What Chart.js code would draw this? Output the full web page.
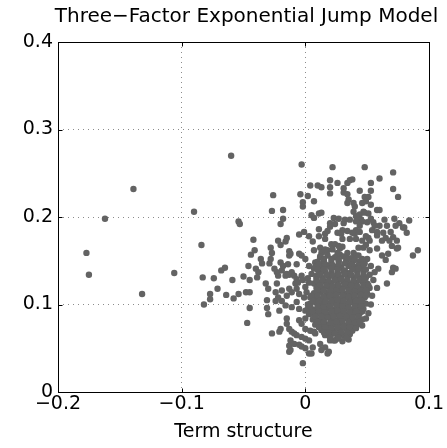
<!DOCTYPE html>
<html lang="en">
<head>
<meta charset="UTF-8">
<title>Three-Factor Exponential Jump Model</title>
<style>
  body { margin: 0; background: #fff; }
  canvas { display: block; }
</style>
</head>
<body>
<canvas id="scatter" width="447" height="448"></canvas>

<script src="https://cdn.jsdelivr.net/npm/chart.js@4"></script>
<script>
const chartTitle = 'Three\u2212Factor Exponential Jump Model';
const xAxisTitle = 'Term structure';
const xTickValues = [-0.2, -0.1, 0, 0.1];
const xTickLabels = ['\u22120.2', '\u22120.1', '0', '0.1'];
const yTickValues = [0, 0.1, 0.2, 0.3, 0.4];
const yTickLabels = ['0', '0.1', '0.2', '0.3', '0.4'];

// [term structure, jump level]
const farLeft = [
  [-0.177, 0.159], [-0.175, 0.134], [-0.162, 0.198], [-0.139, 0.232], [-0.132, 0.112],
  [-0.106, 0.136], [-0.090, 0.206]
];

const leftScatter = [
  [-0.084, 0.168], [-0.083, 0.131], [-0.082, 0.100], [-0.077, 0.112], [-0.077, 0.106],
  [-0.074, 0.130], [-0.071, 0.118], [-0.068, 0.139], [-0.065, 0.142], [-0.064, 0.111],
  [-0.060, 0.270], [-0.059, 0.128], [-0.058, 0.107], [-0.054, 0.112], [-0.054, 0.195],
  [-0.053, 0.192], [-0.050, 0.132], [-0.048, 0.114], [-0.047, 0.079], [-0.046, 0.144],
  [-0.045, 0.114], [-0.045, 0.096], [-0.045, 0.128], [-0.044, 0.157]
];

const lowerLeft = [
  [-0.042, 0.174], [-0.041, 0.162], [-0.040, 0.141], [-0.039, 0.131], [-0.038, 0.137],
  [-0.036, 0.152], [-0.035, 0.147], [-0.032, 0.124], [-0.031, 0.105], [-0.030, 0.118],
  [-0.029, 0.147], [-0.028, 0.165], [-0.028, 0.152], [-0.027, 0.159], [-0.025, 0.141],
  [-0.024, 0.114], [-0.024, 0.104], [-0.023, 0.137], [-0.023, 0.124], [-0.022, 0.173],
  [-0.022, 0.133], [-0.022, 0.108], [-0.020, 0.168], [-0.020, 0.148], [-0.019, 0.104],
  [-0.019, 0.139], [-0.019, 0.116], [-0.018, 0.144], [-0.016, 0.172], [-0.016, 0.133],
  [-0.016, 0.099], [-0.015, 0.176], [-0.015, 0.135], [-0.015, 0.110], [-0.014, 0.146],
  [-0.013, 0.161], [-0.013, 0.156], [-0.013, 0.134], [-0.013, 0.118], [-0.012, 0.158],
  [-0.011, 0.137], [-0.011, 0.114], [-0.011, 0.097], [-0.009, 0.133], [-0.008, 0.124],
  [-0.007, 0.146], [-0.007, 0.129], [-0.007, 0.118], [-0.007, 0.103], [-0.006, 0.125],
  [-0.005, 0.158], [-0.005, 0.112], [-0.005, 0.095], [-0.003, 0.156], [-0.003, 0.133],
  [-0.002, 0.128], [-0.001, 0.183], [-0.001, 0.108], [0.000, 0.152], [0.000, 0.120],
  [0.000, 0.093], [0.001, 0.114], [0.002, 0.130], [0.002, 0.100], [0.003, 0.178],
  [0.003, 0.144], [0.003, 0.125], [0.003, 0.089], [0.004, 0.108], [0.005, 0.135],
  [0.007, 0.141], [0.007, 0.124], [0.008, 0.148], [0.009, 0.133], [0.009, 0.125],
  [-0.030, 0.089], [-0.031, 0.096], [-0.021, 0.093]
];

const lowerTail = [
  [-0.027, 0.067], [-0.021, 0.069], [-0.020, 0.072], [-0.015, 0.084], [-0.015, 0.078],
  [-0.013, 0.072], [-0.011, 0.069], [-0.009, 0.067], [-0.007, 0.065], [-0.005, 0.082],
  [-0.003, 0.078], [-0.003, 0.063], [0.000, 0.084], [0.000, 0.072], [0.000, 0.061],
  [0.003, 0.059], [0.004, 0.070], [0.007, 0.069], [0.007, 0.088], [0.008, 0.067],
  [-0.012, 0.059], [-0.013, 0.053], [-0.012, 0.048], [-0.009, 0.055], [-0.005, 0.054],
  [-0.003, 0.052], [0.000, 0.050], [0.003, 0.044], [0.005, 0.044], [0.006, 0.051],
  [-0.013, 0.046], [-0.002, 0.033], [0.012, 0.055], [0.013, 0.048], [0.016, 0.051],
  [0.018, 0.044], [0.019, 0.046], [0.020, 0.059], [0.023, 0.059], [0.026, 0.061],
  [0.015, 0.084], [0.016, 0.088]
];

const upperCloud = [
  [-0.026, 0.225], [-0.027, 0.207], [-0.018, 0.208], [-0.020, 0.192], [-0.018, 0.198],
  [-0.003, 0.260], [0.022, 0.257], [0.048, 0.257], [0.071, 0.251], [0.060, 0.244],
  [-0.004, 0.226], [-0.002, 0.217], [-0.002, 0.212], [0.002, 0.224], [0.004, 0.236],
  [0.010, 0.236], [0.013, 0.234], [0.007, 0.218], [0.005, 0.202], [0.007, 0.199],
  [0.011, 0.204], [0.013, 0.205], [0.020, 0.242], [0.020, 0.234], [0.020, 0.227],
  [0.026, 0.239], [0.031, 0.233], [0.031, 0.228], [0.034, 0.239], [0.036, 0.242],
  [0.038, 0.243], [0.034, 0.226], [0.034, 0.216], [0.035, 0.220], [0.044, 0.230],
  [0.053, 0.239], [0.053, 0.230], [0.048, 0.223], [0.051, 0.223], [0.049, 0.218],
  [0.046, 0.216], [0.039, 0.216], [0.040, 0.212], [0.039, 0.206], [0.053, 0.214],
  [0.058, 0.208], [0.060, 0.208], [0.047, 0.206], [0.044, 0.203], [0.071, 0.232],
  [0.075, 0.223], [0.048, 0.205], [0.051, 0.204], [0.053, 0.198], [0.045, 0.197],
  [0.043, 0.197], [0.046, 0.195], [0.050, 0.194], [0.055, 0.194], [0.041, 0.201],
  [0.041, 0.195], [0.044, 0.190], [0.041, 0.185], [0.036, 0.197], [0.032, 0.197],
  [0.031, 0.193], [0.030, 0.185], [0.023, 0.199], [0.027, 0.198], [0.024, 0.192],
  [0.020, 0.193], [0.064, 0.197], [0.060, 0.190], [0.058, 0.183], [0.072, 0.198],
  [0.076, 0.193], [0.079, 0.188], [0.082, 0.182], [0.084, 0.196], [0.091, 0.162],
  [0.087, 0.156], [0.069, 0.183], [0.071, 0.177], [0.074, 0.164], [-0.005, 0.180],
  [0.006, 0.172], [0.011, 0.178], [0.016, 0.181], [0.018, 0.184], [0.020, 0.189],
  [0.011, 0.186], [0.016, 0.175], [0.021, 0.169], [0.012, 0.165], [0.007, 0.162],
  [0.014, 0.160], [0.018, 0.162], [0.022, 0.163], [0.028, 0.164], [0.030, 0.166],
  [0.029, 0.181], [0.034, 0.184], [0.036, 0.175], [0.040, 0.181], [0.041, 0.175],
  [0.044, 0.183], [0.046, 0.173], [0.049, 0.178], [0.051, 0.176], [0.052, 0.173],
  [0.054, 0.185], [0.058, 0.179], [0.063, 0.182], [0.062, 0.173], [0.065, 0.176],
  [0.068, 0.173], [0.070, 0.167], [0.074, 0.173], [0.047, 0.165], [0.049, 0.168],
  [0.052, 0.162], [0.058, 0.164], [0.039, 0.159], [0.043, 0.165], [0.034, 0.159],
  [0.028, 0.157], [0.041, 0.156], [0.026, 0.182], [0.030, 0.175], [0.038, 0.182],
  [0.056, 0.190], [0.066, 0.190], [0.073, 0.190], [0.080, 0.188], [0.075, 0.165],
  [0.012, 0.154], [0.013, 0.159], [0.016, 0.163], [0.015, 0.148], [0.024, 0.169],
  [0.027, 0.167], [0.026, 0.159]
];

const rightFringe = [
  [0.062, 0.156], [0.065, 0.151], [0.067, 0.158], [0.059, 0.141], [0.056, 0.137],
  [0.052, 0.134], [0.050, 0.152], [0.053, 0.144], [0.071, 0.142], [0.073, 0.141],
  [0.070, 0.137], [0.066, 0.124], [0.058, 0.119], [0.055, 0.128], [0.054, 0.110],
  [0.053, 0.100], [0.051, 0.090], [0.049, 0.084], [0.046, 0.076]
];

const coreCluster = [
  [0.012, 0.155], [0.018, 0.156], [0.024, 0.154], [0.031, 0.155], [0.037, 0.153], [0.043, 0.156],
  [0.010, 0.149], [0.015, 0.150], [0.021, 0.148], [0.027, 0.149], [0.033, 0.150], [0.038, 0.148],
  [0.044, 0.149], [0.048, 0.147],
  [0.008, 0.143], [0.013, 0.142], [0.019, 0.144], [0.024, 0.143], [0.029, 0.142], [0.035, 0.144],
  [0.040, 0.143], [0.046, 0.142],
  [0.011, 0.137], [0.016, 0.138], [0.021, 0.136], [0.026, 0.137], [0.031, 0.138], [0.036, 0.136],
  [0.042, 0.137], [0.047, 0.138],
  [0.009, 0.131], [0.014, 0.130], [0.019, 0.132], [0.024, 0.131], [0.029, 0.130], [0.034, 0.132],
  [0.039, 0.131], [0.044, 0.130], [0.049, 0.131],
  [0.011, 0.125], [0.016, 0.126], [0.021, 0.124], [0.026, 0.125], [0.031, 0.126], [0.036, 0.124],
  [0.041, 0.125], [0.046, 0.126], [0.050, 0.124],
  [0.009, 0.119], [0.014, 0.118], [0.019, 0.120], [0.024, 0.119], [0.029, 0.118], [0.034, 0.120],
  [0.039, 0.119], [0.044, 0.118], [0.048, 0.120], [0.052, 0.119],
  [0.007, 0.113], [0.012, 0.114], [0.017, 0.112], [0.022, 0.113], [0.027, 0.114], [0.032, 0.112],
  [0.037, 0.113], [0.042, 0.114], [0.046, 0.112], [0.050, 0.113],
  [0.008, 0.107], [0.013, 0.106], [0.018, 0.108], [0.023, 0.107], [0.028, 0.106], [0.033, 0.108],
  [0.038, 0.107], [0.043, 0.106], [0.048, 0.108],
  [0.004, 0.101], [0.009, 0.102], [0.014, 0.100], [0.019, 0.101], [0.024, 0.102], [0.029, 0.100],
  [0.034, 0.101], [0.039, 0.102], [0.044, 0.100], [0.049, 0.101],
  [0.002, 0.095], [0.007, 0.094], [0.012, 0.096], [0.017, 0.095], [0.022, 0.094], [0.027, 0.096],
  [0.032, 0.095], [0.037, 0.094], [0.042, 0.096], [0.047, 0.095],
  [0.009, 0.089], [0.014, 0.090], [0.019, 0.088], [0.024, 0.089], [0.029, 0.090], [0.034, 0.088],
  [0.039, 0.089], [0.044, 0.090],
  [0.006, 0.083], [0.011, 0.082], [0.021, 0.083], [0.026, 0.082], [0.031, 0.084], [0.036, 0.083],
  [0.041, 0.082], [0.046, 0.083],
  [0.008, 0.077], [0.013, 0.078], [0.018, 0.076], [0.023, 0.077], [0.028, 0.078], [0.033, 0.076],
  [0.038, 0.077], [0.043, 0.078],
  [0.013, 0.071], [0.018, 0.072], [0.023, 0.070], [0.028, 0.071], [0.033, 0.072], [0.038, 0.070],
  [0.016, 0.065], [0.021, 0.066], [0.026, 0.064], [0.031, 0.065], [0.036, 0.066],
  [0.024, 0.059], [0.030, 0.058], [0.035, 0.060]
];

// the solid middle of the cloud, between the rows above
const coreFill = [
  [0.015, 0.152], [0.021, 0.152], [0.027, 0.151], [0.034, 0.152], [0.040, 0.151], [0.046, 0.152],
  [0.011, 0.146], [0.016, 0.146], [0.022, 0.145], [0.027, 0.146], [0.032, 0.147], [0.037, 0.146],
  [0.043, 0.145], [0.047, 0.146],
  [0.010, 0.140], [0.015, 0.140], [0.021, 0.141], [0.026, 0.140], [0.032, 0.139], [0.038, 0.140],
  [0.043, 0.141], [0.049, 0.140],
  [0.012, 0.134], [0.017, 0.134], [0.022, 0.133], [0.027, 0.134], [0.032, 0.135], [0.037, 0.134],
  [0.042, 0.133], [0.047, 0.134],
  [0.009, 0.128], [0.014, 0.128], [0.019, 0.127], [0.024, 0.128], [0.029, 0.129], [0.034, 0.128],
  [0.039, 0.127], [0.044, 0.128], [0.048, 0.128],
  [0.012, 0.122], [0.017, 0.122], [0.022, 0.121], [0.027, 0.122], [0.032, 0.123], [0.037, 0.122],
  [0.042, 0.121], [0.047, 0.122], [0.051, 0.122],
  [0.010, 0.116], [0.015, 0.116], [0.020, 0.115], [0.025, 0.116], [0.030, 0.117], [0.035, 0.116],
  [0.040, 0.115], [0.045, 0.116], [0.049, 0.116],
  [0.005, 0.110], [0.010, 0.110], [0.015, 0.109], [0.020, 0.110], [0.025, 0.111], [0.030, 0.110],
  [0.035, 0.109], [0.040, 0.110], [0.045, 0.111], [0.049, 0.110],
  [0.006, 0.104], [0.011, 0.104], [0.016, 0.103], [0.021, 0.104], [0.026, 0.105], [0.031, 0.104],
  [0.036, 0.103], [0.041, 0.104], [0.046, 0.104],
  [0.004, 0.098], [0.010, 0.098], [0.015, 0.097], [0.020, 0.098], [0.025, 0.099], [0.030, 0.098],
  [0.035, 0.097], [0.040, 0.098], [0.045, 0.098],
  [0.006, 0.092], [0.011, 0.092], [0.016, 0.091], [0.021, 0.092], [0.026, 0.093], [0.031, 0.092],
  [0.036, 0.091], [0.041, 0.092], [0.046, 0.092],
  [0.008, 0.086], [0.013, 0.086], [0.018, 0.085], [0.023, 0.086], [0.028, 0.087], [0.033, 0.086],
  [0.038, 0.085], [0.043, 0.086],
  [0.010, 0.080], [0.015, 0.080], [0.020, 0.079], [0.025, 0.080], [0.030, 0.081], [0.035, 0.080],
  [0.040, 0.079], [0.044, 0.080],
  [0.011, 0.074], [0.016, 0.074], [0.021, 0.073], [0.026, 0.074], [0.031, 0.075], [0.036, 0.074],
  [0.041, 0.073],
  [0.015, 0.068], [0.019, 0.068], [0.024, 0.067], [0.029, 0.068], [0.034, 0.068],
  [0.020, 0.062], [0.027, 0.062], [0.033, 0.062]
];

const FONT = 'DejaVu Sans';

function nearestLabel(values, labels, v) {
  let best = 0;
  values.forEach((t, i) => { if (Math.abs(t - v) < Math.abs(values[best] - v)) best = i; });
  return labels[best];
}

// MATLAB style box with inward ticks, and the title centred over the axes
const boxPlugin = {
  id: 'box',
  afterDatasetsDraw(chart) {
    const { ctx, chartArea: a, scales } = chart;
    const L = Math.round(a.left) + 0.5, R = Math.round(a.right) + 0.5;
    const T = Math.round(a.top) + 0.5, B = Math.round(a.bottom) + 0.5;
    ctx.save();
    ctx.strokeStyle = '#000';
    ctx.lineWidth = 1;
    ctx.strokeRect(L, T, R - L, B - T);
    ctx.beginPath();
    xTickValues.forEach(v => {
      const x = Math.round(scales.x.getPixelForValue(v)) + 0.5;
      ctx.moveTo(x, B); ctx.lineTo(x, B - 4);
      ctx.moveTo(x, T); ctx.lineTo(x, T + 4);
    });
    yTickValues.forEach(v => {
      const y = Math.round(scales.y.getPixelForValue(v)) + 0.5;
      ctx.moveTo(L, y); ctx.lineTo(L + 4, y);
      ctx.moveTo(R, y); ctx.lineTo(R - 4, y);
    });
    ctx.stroke();
    ctx.fillStyle = '#000';
    ctx.font = '20px "' + FONT + '"';
    ctx.textAlign = 'center';
    ctx.textBaseline = 'alphabetic';
    ctx.fillText(chartTitle, (a.left + a.right) / 2 + 3, 22);
    ctx.restore();
  }
};

const points = [farLeft, leftScatter, lowerLeft, lowerTail, upperCloud, rightFringe, coreCluster, coreFill]
  .flat()
  .map(([x, y]) => ({ x, y }));

new Chart(document.getElementById('scatter'), {
  type: 'scatter',
  data: {
    datasets: [{
      label: chartTitle,
      data: points,
      backgroundColor: '#636363',
      borderWidth: 0,
      pointRadius: 3.2,
      pointHoverRadius: 3.2
    }]
  },
  options: {
    responsive: false,
    animation: false,
    devicePixelRatio: 1,
    layout: { padding: { top: 42, right: 18, bottom: 0, left: 0 } },
    plugins: { legend: { display: false }, tooltip: { enabled: false }, title: { display: false } },
    scales: {
      x: {
        type: 'linear',
        min: -0.2,
        max: 0.1,
        afterBuildTicks: s => { s.ticks = xTickValues.map(v => ({ value: v })); },
        afterFit: s => { s.height = 56; },
        ticks: {
          callback: v => nearestLabel(xTickValues, xTickLabels, v),
          font: { family: FONT, size: 19 },
          color: '#000',
          padding: 1,
          maxRotation: 0,
          autoSkip: false
        },
        grid: { color: '#8c8c8c', lineWidth: 1, drawTicks: false },
        border: { display: false, dash: [1, 4] },
        title: {
          display: true,
          text: xAxisTitle,
          font: { family: FONT, size: 19 },
          color: '#000',
          padding: { top: 0, bottom: 5 }
        }
      },
      y: {
        type: 'linear',
        min: 0,
        max: 0.4,
        afterBuildTicks: s => { s.ticks = yTickValues.map(v => ({ value: v })); },
        afterFit: s => { s.width = 58; },
        ticks: {
          callback: v => nearestLabel(yTickValues, yTickLabels, v),
          font: { family: FONT, size: 19 },
          color: '#000',
          padding: 5
        },
        grid: { color: '#8c8c8c', lineWidth: 1, drawTicks: false },
        border: { display: false, dash: [1, 4] }
      }
    }
  },
  plugins: [boxPlugin]
});
</script>
</body>
</html>
